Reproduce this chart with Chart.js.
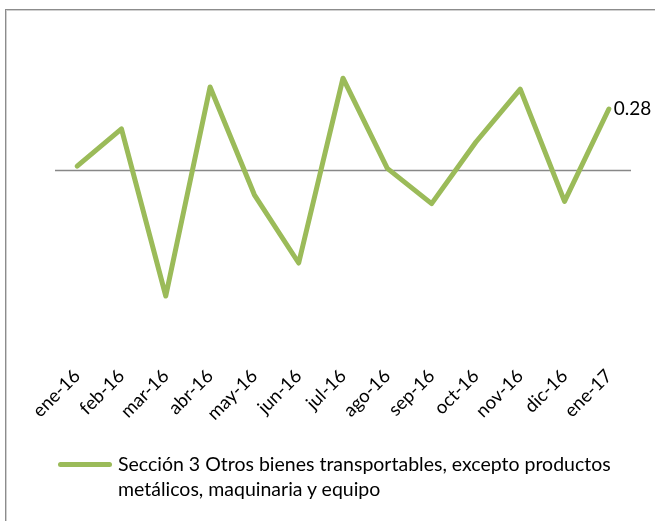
<!DOCTYPE html>
<html>
<head>
<meta charset="utf-8">
<script src="https://cdn.jsdelivr.net/npm/chart.js@4"></script>
<style>
html, body { margin: 0; padding: 0; background: #fff; overflow: hidden; }
#wrap { position: relative; width: 655px; height: 521px; }
#frame { position: absolute; left: 5px; top: 9px; width: 700px; height: 600px; border: 1px solid #8c8c8c; box-shadow: inset 1px 1px 0 #d0d0d0; }
#legend { position: absolute; left: 58px; top: 451px; font-family: Lato, sans-serif; font-size: 19.5px; line-height: 25px; color: #000; }
#legend .swatch { position: absolute; left: 0; top: 11px; width: 54px; height: 5px; border-radius: 3px; background: #9bbb59; }
#legend .txt { margin-left: 60px; width: 560px; }
</style>
</head>
<body>
<div id="wrap">
  <canvas id="chart" width="655" height="521"></canvas>
  <div id="frame"></div>
  <div id="legend"></div>
</div>
<script>
var labels = ['ene-16', 'feb-16', 'mar-16', 'abr-16', 'may-16', 'jun-16', 'jul-16',
	'ago-16', 'sep-16', 'oct-16', 'nov-16', 'dic-16', 'ene-17'];
var values = [0.02, 0.19, -0.57, 0.38, -0.11, -0.42, 0.42, 0.01, -0.15, 0.13, 0.37, -0.14, 0.28];
var seriesName = 'Sección 3 Otros bienes transportables, excepto productos metálicos, maquinaria y equipo';
var lineColor = '#9bbb59';

// horizontal line at zero, drawn under the series
var zeroLine = {
	id: 'zeroLine',
	beforeDatasetsDraw: function (chart) {
		var y = chart.scales.y.getPixelForValue(0);
		var a = chart.chartArea;
		var ctx = chart.ctx;
		ctx.save();
		ctx.strokeStyle = '#888888';
		ctx.lineWidth = 1.5;
		ctx.beginPath();
		ctx.moveTo(a.left, y);
		ctx.lineTo(a.right, y);
		ctx.stroke();
		ctx.restore();
	}
};

// label only the last point, like the original
var lastLabel = {
	id: 'lastLabel',
	afterDatasetsDraw: function (chart) {
		var meta = chart.getDatasetMeta(0);
		var pt = meta.data[meta.data.length - 1];
		var ctx = chart.ctx;
		ctx.save();
		ctx.font = '19px Lato, sans-serif';
		ctx.fillStyle = '#000';
		ctx.textBaseline = 'middle';
		ctx.textAlign = 'left';
		ctx.fillText(values[values.length - 1].toFixed(2), pt.x + 5, pt.y);
		ctx.restore();
	}
};

var chart = new Chart(document.getElementById('chart'), {
	type: 'line',
	data: {
		labels: labels,
		datasets: [{
			label: seriesName,
			data: values,
			borderColor: lineColor,
			borderWidth: 5,
			borderJoinStyle: 'round',
			borderCapStyle: 'round',
			pointRadius: 0,
			tension: 0,
			fill: false
		}]
	},
	options: {
		responsive: false,
		animation: false,
		layout: { padding: { top: 32, left: 55, right: 24, bottom: 0 } },
		plugins: { legend: { display: false }, tooltip: { enabled: false } },
		scales: {
			x: {
				offset: true,
				grid: { display: false, drawTicks: false },
				border: { display: false },
				ticks: {
					minRotation: 45,
					maxRotation: 45,
					padding: 3,
					color: '#000',
					font: { family: 'Lato, sans-serif', size: 18.5 }
				},
				afterFit: function (s) { s.height = 159; }
			},
			y: {
				min: -0.87,
				max: 0.63,
				border: { display: false },
				ticks: { display: false },
				grid: { display: false, drawTicks: false },
				afterFit: function (s) { s.width = 0; }
			}
		}
	},
	plugins: [zeroLine, lastLabel]
});

var leg = document.getElementById('legend');
leg.innerHTML = '<div class="swatch"></div><div class="txt"></div>';
leg.querySelector('.txt').textContent = chart.data.datasets[0].label;
</script>
</body>
</html>
